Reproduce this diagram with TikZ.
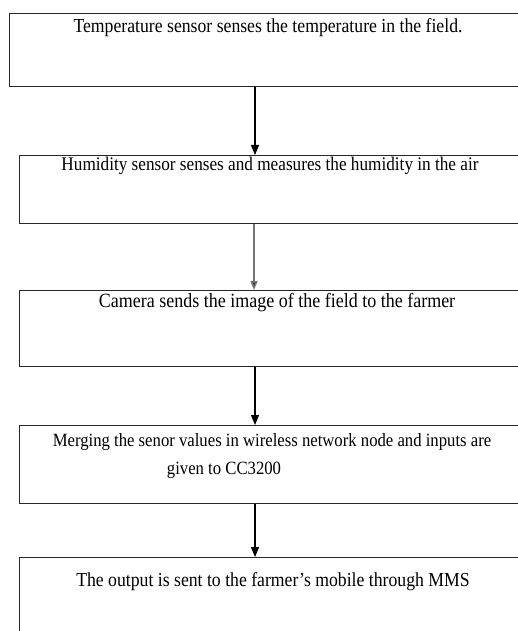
\documentclass[tikz,border=0pt]{standalone}
\usepackage{fontspec}
\usepackage{graphicx}
\setmainfont{Liberation Serif}
\usetikzlibrary{arrows.meta}
\newcommand{\fsz}[1]{\fontsize{#1}{#1}\selectfont}
\newcommand{\tallt}[1]{\scalebox{1}[1.12]{#1}}
\begin{document}
\begin{tikzpicture}[x=1pt,y=-1pt,
  box/.style={draw=black!85,line width=1.3pt,rectangle,inner sep=0pt,anchor=north west},
  lbl/.style={inner sep=0pt,anchor=center},
  arr/.style={draw=black,line width=1.1pt,-{Triangle[length=10pt,width=8pt]}},
  garr/.style={draw=black!55,line width=1.6pt,-{Triangle[length=9pt,width=7pt,fill=black!80]}}]
\useasboundingbox[fill=white] (0,0) rectangle (517,631);
\node[box,minimum width=540pt,minimum height=73pt] (b1) at (9,13) {};
\node[box,minimum width=530pt,minimum height=67.5pt] (b2) at (19,155) {};
\node[box,minimum width=530pt,minimum height=76pt] (b3) at (19,290) {};
\node[box,minimum width=530pt,minimum height=78pt] (b4) at (19,425) {};
\node[box,minimum width=530pt,minimum height=90pt] (b5) at (19,557) {};
\node[lbl,font=\fsz{17.7}] (t1) at (268,28) {\tallt{Temperature sensor senses the temperature in the field.}};
\node[lbl,font=\fsz{17.2}] (t2) at (270,166) {\tallt{Humidity sensor senses and measures the humidity in the air}};
\node[lbl,font=\fsz{18}] (t3) at (277,303) {\tallt{Camera sends the image of the field to the farmer}};
\node[lbl,font=\fsz{16.7}] (t4a) at (272,442) {\tallt{Merging the senor values in wireless network node and inputs are}};
\node[lbl,font=\fsz{16.7}] (t4b) at (224,470) {\tallt{given to CC3200}};
\node[lbl,font=\fsz{17.7}] (t5) at (273,582) {\tallt{The output is sent to the farmer’s mobile through MMS}};
\coordinate (c1) at (255,0);
\coordinate (c2) at (254,0);
\coordinate (c3) at (255,0);
\coordinate (c4) at (255,0);
\draw[arr] (b1.south -| c1) -- (b2.north -| c1);
\draw[garr] (b2.south -| c2) -- (b3.north -| c2);
\draw[arr] (b3.south -| c3) -- (b4.north -| c3);
\draw[arr] (b4.south -| c4) -- (b5.north -| c4);
\end{tikzpicture}
\end{document}
